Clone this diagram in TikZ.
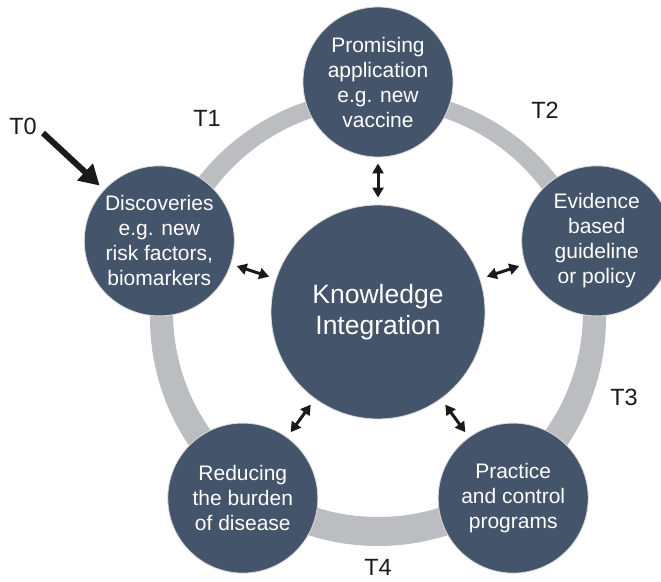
\documentclass[tikz,border=0pt]{standalone}
\usepackage{fontspec}
\setmainfont{Liberation Sans}
\usetikzlibrary{arrows.meta}
\definecolor{slate}{HTML}{44546A}
\definecolor{ringgray}{HTML}{BBBDC0}
\definecolor{ink}{HTML}{1A1A1A}
\begin{document}
\begin{tikzpicture}[x=1pt,y=-1pt,
  stage/.style={circle, fill=slate, draw=white!85!black, line width=0.8pt,
    minimum size=150pt, inner sep=0pt, align=center, text=white,
    font=\fontsize{21}{25}\selectfont},
  hub/.style={stage, minimum size=214pt, font=\fontsize{26.5}{31.5}\selectfont},
  link/.style={ink, line width=3pt,
    {Triangle[length=10pt,width=11pt]}-{Triangle[length=10pt,width=11pt]},
    shorten <=7pt, shorten >=6pt},
  entry/.style={ink, line width=6pt, -{Triangle[length=20pt,width=22pt]}, shorten >=6pt},
  phase/.style={font=\fontsize{23.5}{28}\selectfont, text=ink, inner sep=0pt}]
\useasboundingbox (0,0) rectangle (661,581);

% the translational ring, slightly thicker towards the bottom
\fill[ringgray, even odd rule] (378,318) circle (228pt) (378,312) circle (205pt);

% stages of the cycle
\node[hub]   (ki)    at (378,312)     {Knowledge\\Integration};
\node[stage] (appl)  at (378,82)      {Promising\\application\\e.g. new\\vaccine};
\node[stage] (guide) at (596.7,240.9) {Evidence\\based\\guideline\\or policy};
\node[stage] (prac)  at (513.2,498.1) {Practice\\and control\\programs};
\node[stage] (burd)  at (242.8,498.1) {Reducing\\the burden\\of disease};
\node[stage] (disc)  at (159.3,240.9) {Discoveries\\e.g. new\\risk factors,\\biomarkers};

% exchange with the hub
\draw[link] (ki) -- (appl);
\draw[link] (ki) -- (guide);
\draw[link] (ki) -- (prac);
\draw[link] (ki) -- (burd);
\draw[link] (ki) -- (disc);

% entry point
\coordinate (start) at (43,133);
\draw[entry] (start) -- (disc);

% phase labels
\node[phase] (t0) at (23,126)  {T0};
\node[phase] (t1) at (207,118) {T1};
\node[phase] (t2) at (545,110) {T2};
\node[phase] (t3) at (624,397) {T3};
\node[phase] (t4) at (378,567) {T4};
\end{tikzpicture}
\end{document}
